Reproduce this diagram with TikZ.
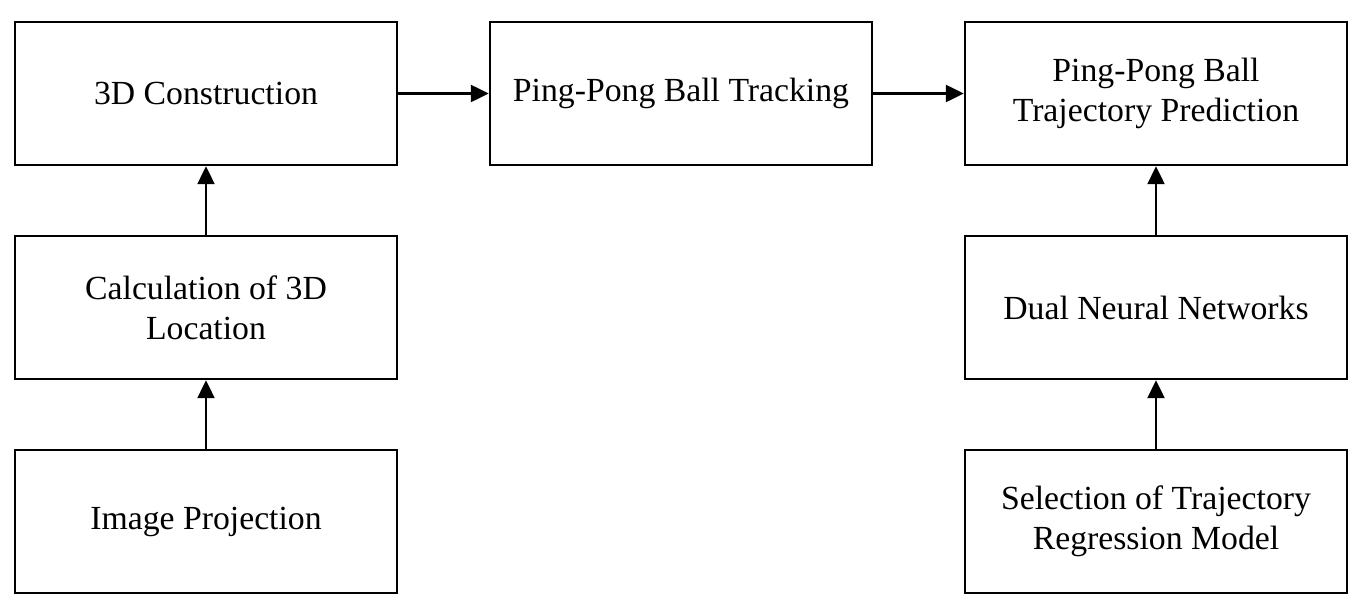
\documentclass[tikz,border=0pt]{standalone}
\usepackage{fontspec}
\setmainfont{Liberation Serif}
\usetikzlibrary{arrows.meta}

\begin{document}
\begin{tikzpicture}[x=0.02cm, y=-0.02cm,
        stage/.style = {draw, line width=1.4pt, minimum width=7.64cm, minimum height=2.86cm,
                        align=center, font=\fontsize{19.2}{22.8}\selectfont, inner sep=0pt},
        flow/.style  = {line width=1.3pt, -{Triangle[length=0.36cm, width=0.34cm]}}]
        \useasboundingbox (0,0) rectangle (1364,612);
        % left column
        \node[stage] (construct) at (206, 93.5)  {3D Construction};
        \node[stage] (locate)    at (206, 307.5) {Calculation of 3D\\Location};
        \node[stage] (project)   at (206, 521.5) {Image Projection};
        % middle
        \node[stage] (track)     at (681, 93.5)  {Ping-Pong Ball Tracking};
        % right column
        \node[stage] (predict)   at (1156, 93.5)  {Ping-Pong Ball\\Trajectory Prediction};
        \node[stage] (dualnn)    at (1156, 307.5) {Dual Neural Networks};
        \node[stage] (select)    at (1156, 521.5) {Selection of Trajectory\\Regression Model};
        % arrows
        \draw[flow] (project) -- (locate);
        \draw[flow] (locate)  -- (construct);
        \draw[flow] (construct) -- (track);
        \draw[flow] (track)   -- (predict);
        \draw[flow] (select)  -- (dualnn);
        \draw[flow] (dualnn)  -- (predict);
    \end{tikzpicture}
\end{document}
